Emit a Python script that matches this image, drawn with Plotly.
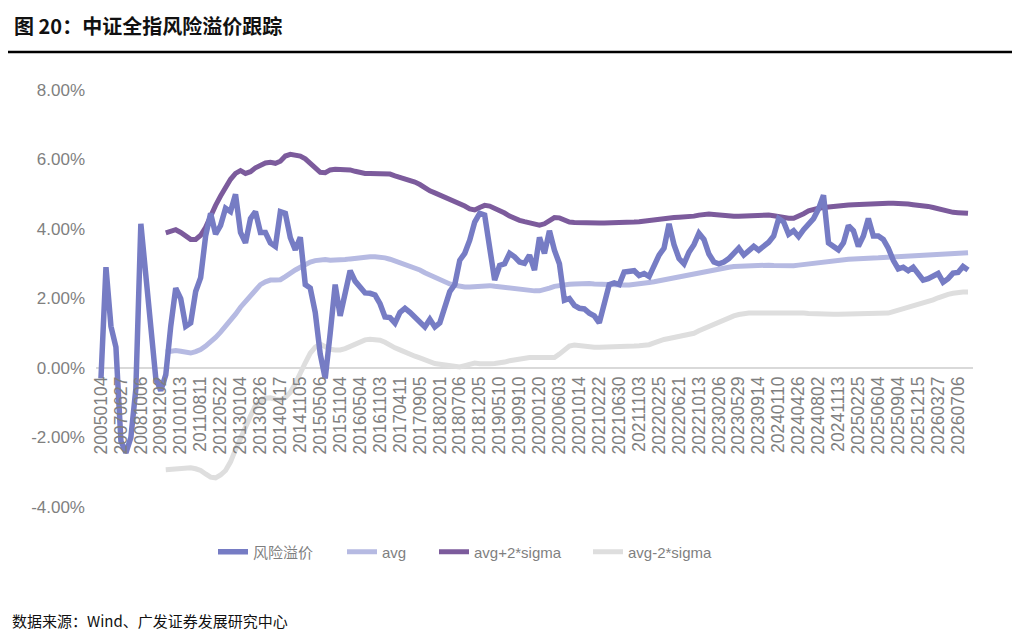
import plotly.graph_objects as go

tick_labels = ["20050104", "20070627", "20081006", "20091202", "20101013", "20110811",
               "20120522", "20130104", "20130826", "20140417", "20141105", "20150506",
               "20151104", "20160504", "20161103", "20170411", "20170905", "20180201",
               "20180706", "20181205", "20190510", "20190910", "20200120", "20200603",
               "20201014", "20210222", "20210630", "20211103", "20220225", "20220621",
               "20221013", "20230206", "20230529", "20230914", "20240110", "20240426",
               "20240802", "20241113", "20250225", "20250604", "20250904", "20251215",
               "20260327", "20260706"]
points_per_label = 4

# 风险溢价 (%)
risk_premium = [
    -0.3, 2.9, 1.2, 0.6, -2.1, -2.44, -2.0, -0.6, 4.15, 2.7,
    0.9, -0.3, -0.65, -0.2, 1.2, 2.3, 2.0, 1.2, 1.3, 2.2,
    2.6, 3.8, 4.45, 3.85, 4.1, 4.6, 4.5, 5.0, 3.9, 3.6,
    4.3, 4.5, 3.9, 3.9, 3.6, 3.5, 4.5, 4.45, 3.75, 3.4,
    3.76, 2.4, 2.3, 1.6, 0.4, -0.3, 1.0, 2.4, 1.5, 2.1,
    2.8, 2.5, 2.3, 2.16, 2.15, 2.1, 1.85, 1.47, 1.45, 1.29,
    1.6, 1.72, 1.6, 1.45, 1.33, 1.18, 1.4, 1.18, 1.3, 1.76,
    2.2, 2.4, 3.1, 3.3, 3.68, 4.2, 4.45, 4.4, 3.5, 2.53,
    2.95, 3.0, 3.3, 3.2, 3.05, 3.01, 3.25, 2.82, 3.76, 3.3,
    3.95, 3.39, 3.0, 1.95, 2.0, 1.8, 1.72, 1.7, 1.58, 1.5,
    1.3, 1.8, 2.4, 2.45, 2.4, 2.76, 2.78, 2.8, 2.66, 2.72,
    2.63, 2.95, 3.25, 3.45, 4.15, 3.55, 3.15, 3.0, 3.33, 3.55,
    3.88, 3.7, 3.28, 3.05, 3.0, 3.05, 3.15, 3.3, 3.45, 3.25,
    3.38, 3.5, 3.39, 3.5, 3.62, 3.8, 4.3, 4.2, 3.85, 3.95,
    3.78, 3.98, 4.12, 4.3, 4.58, 4.97, 3.6, 3.5, 3.4, 3.6,
    4.1, 3.95, 3.5, 3.8, 4.3, 3.8, 3.8, 3.7, 3.45, 3.1,
    2.85, 2.9, 2.8, 2.9, 2.68, 2.53, 2.57, 2.63, 2.72, 2.47,
    2.57, 2.73, 2.75, 2.92, 2.82]

# avg (%)
avg = [
    0.46, 0.48, 0.5, 0.48, 0.44, 0.43, 0.47, 0.53, 0.63, 0.74,
    0.88, 1.03, 1.19, 1.35, 1.55, 1.75, 1.92, 2.06, 2.23, 2.4,
    2.48, 2.53, 2.53, 2.54, 2.63, 2.74, 2.82, 2.9, 2.98, 3.05,
    3.09, 3.12, 3.12, 3.1, 3.1, 3.11, 3.12, 3.14, 3.16, 3.18,
    3.2, 3.2, 3.2, 3.2, 3.17, 3.13, 3.08, 3.03, 2.98, 2.93,
    2.88, 2.82, 2.74, 2.67, 2.6, 2.54, 2.47, 2.42, 2.38, 2.34,
    2.33, 2.33, 2.34, 2.36, 2.38, 2.37, 2.35, 2.33, 2.32, 2.31,
    2.29, 2.27, 2.25, 2.23, 2.22, 2.22, 2.25, 2.3, 2.35, 2.38,
    2.4, 2.41, 2.42, 2.43, 2.44, 2.43, 2.42, 2.41, 2.4, 2.39,
    2.39, 2.39, 2.39, 2.39, 2.4, 2.42, 2.44, 2.46, 2.48, 2.51,
    2.54, 2.57, 2.59, 2.62, 2.65, 2.68, 2.71, 2.74, 2.77, 2.8,
    2.83, 2.86, 2.88, 2.9, 2.92, 2.93, 2.94, 2.95, 2.96, 2.96,
    2.96, 2.96, 2.95, 2.94, 2.93, 2.93, 2.94, 2.96, 2.98, 3.0,
    3.02, 3.04, 3.06, 3.08, 3.1, 3.11, 3.12, 3.13, 3.14, 3.14,
    3.15, 3.15, 3.16, 3.17, 3.18, 3.19, 3.19, 3.2, 3.21, 3.22,
    3.23, 3.24, 3.25, 3.26, 3.27, 3.28, 3.29, 3.3, 3.3, 3.31,
    3.32, 3.32]

# avg+2*sigma (%)
upper = [
    3.89, 3.95, 3.98, 3.9, 3.8, 3.7, 3.7, 3.82, 4.05, 4.4,
    4.68, 4.95, 5.2, 5.43, 5.6, 5.68, 5.6, 5.65, 5.76, 5.83,
    5.9, 5.92, 5.89, 5.95, 6.1, 6.15, 6.13, 6.1, 6.02, 5.89,
    5.75, 5.63, 5.62, 5.7, 5.72, 5.72, 5.72, 5.7, 5.66, 5.62,
    5.6, 5.6, 5.6, 5.6, 5.6, 5.58, 5.53, 5.49, 5.45, 5.4,
    5.35, 5.28, 5.18, 5.1, 5.04, 4.98, 4.93, 4.87, 4.8, 4.74,
    4.66, 4.58, 4.55, 4.62, 4.68, 4.66, 4.6, 4.54, 4.46, 4.37,
    4.3, 4.25, 4.21, 4.17, 4.13, 4.11, 4.15, 4.25, 4.33, 4.32,
    4.24, 4.2, 4.19, 4.18, 4.17, 4.17, 4.17, 4.17, 4.17, 4.17,
    4.18, 4.18, 4.19, 4.2, 4.2, 4.21, 4.23, 4.25, 4.27, 4.3,
    4.31, 4.32, 4.33, 4.34, 4.34, 4.35, 4.37, 4.4, 4.42, 4.43,
    4.42, 4.4, 4.38, 4.37, 4.37, 4.37, 4.38, 4.39, 4.4, 4.4,
    4.4, 4.4, 4.38, 4.35, 4.32, 4.31, 4.31, 4.36, 4.44, 4.52,
    4.57, 4.6, 4.62, 4.64, 4.66, 4.67, 4.68, 4.69, 4.7, 4.71,
    4.72, 4.73, 4.74, 4.74, 4.74, 4.74, 4.74, 4.74, 4.73, 4.72,
    4.7, 4.69, 4.67, 4.65, 4.62, 4.58, 4.54, 4.51, 4.48, 4.47,
    4.46, 4.45]

# avg-2*sigma (%)
lower = [
    -2.93, -2.92, -2.9, -2.88, -2.87, -2.87, -2.9, -2.95, -3.05, -3.14,
    -3.16, -3.08, -2.95, -2.7, -2.35, -2.0, -1.65, -1.38, -1.08, -0.95,
    -0.87, -0.86, -0.9, -0.92, -0.85, -0.7, -0.45, -0.12, 0.15, 0.43,
    0.6, 0.69, 0.62, 0.54, 0.52, 0.52, 0.56, 0.62, 0.68, 0.75,
    0.81, 0.83, 0.82, 0.8, 0.74, 0.65, 0.58, 0.52, 0.45, 0.4,
    0.34, 0.29, 0.23, 0.17, 0.13, 0.11, 0.09, 0.07, 0.05, 0.03,
    0.07, 0.12, 0.14, 0.12, 0.11, 0.12, 0.13, 0.14, 0.17, 0.21,
    0.24, 0.27, 0.29, 0.3, 0.3, 0.3, 0.28, 0.27, 0.3, 0.4,
    0.52, 0.63, 0.66, 0.64, 0.62, 0.6, 0.6, 0.6, 0.6, 0.6,
    0.6, 0.6, 0.61, 0.62, 0.63, 0.64, 0.65, 0.67, 0.72, 0.78,
    0.82, 0.85, 0.88, 0.91, 0.94, 0.97, 1.0, 1.07, 1.13, 1.19,
    1.25, 1.32, 1.39, 1.46, 1.5, 1.54, 1.57, 1.58, 1.58, 1.58,
    1.58, 1.58, 1.59, 1.6, 1.61, 1.61, 1.61, 1.6, 1.58, 1.57,
    1.56, 1.55, 1.55, 1.55, 1.55, 1.55, 1.55, 1.55, 1.55, 1.55,
    1.55, 1.55, 1.55, 1.55, 1.56, 1.58, 1.62, 1.66, 1.71, 1.76,
    1.8, 1.84, 1.87, 1.9, 1.96, 2.02, 2.08, 2.12, 2.15, 2.18,
    2.19, 2.19]

x_rp = list(range(len(risk_premium)))
x_avg = list(range(len(risk_premium) - len(avg), len(risk_premium)))
x_up = list(range(len(risk_premium) - len(upper), len(risk_premium)))
x_lo = list(range(len(risk_premium) - len(lower), len(risk_premium)))

tick_vals = [i * points_per_label for i in range(len(tick_labels))]

FONT = "Liberation Sans, Arial, Noto Sans CJK SC, sans-serif"
GRAY = "#7f7f7f"

# page is rendered with an 8px body margin: figure is drawn starting at (8, 8)
OFF = 8
W, H = 1020 - OFF, 639 - OFF
PL, PR, PT, PB = 96, 973, 90, 507          # plot area in page pixels
PW, PH = PR - PL, PB - PT


def px(xp):
    return (xp - PL) / PW


def py(yp):
    return (PB - yp) / PH


legend_common = dict(orientation="h", xanchor="left", yanchor="middle", y=py(552),
                     font=dict(size=15, color=GRAY, family=FONT),
                     bgcolor="rgba(0,0,0,0)")

fig = go.Figure()
fig.add_trace(go.Scatter(x=x_lo, y=lower, mode="lines", name="avg-2*sigma",
                         line=dict(color="#dedede", width=5), legend="legend4"))
fig.add_trace(go.Scatter(x=x_up, y=upper, mode="lines", name="avg+2*sigma",
                         line=dict(color="#7c5b9c", width=5), legend="legend3"))
fig.add_trace(go.Scatter(x=x_avg, y=avg, mode="lines", name="avg",
                         line=dict(color="#b6bae2", width=5), legend="legend2"))
fig.add_trace(go.Scatter(x=x_rp, y=risk_premium, mode="lines", name="风险溢价",
                         line=dict(color="#767cc4", width=5.5), legend="legend"))

fig.update_layout(
    width=W, height=H,
    margin=dict(l=PL - OFF, r=W - (PR - OFF), t=PT - OFF, b=H - (PB - OFF)),
    paper_bgcolor="white", plot_bgcolor="white",
    font=dict(family=FONT, color=GRAY),
    showlegend=True,
    legend=dict(x=px(213), **legend_common),
    legend2=dict(x=px(342), **legend_common),
    legend3=dict(x=px(434), **legend_common),
    legend4=dict(x=px(588), **legend_common),
    xaxis=dict(range=[-1, len(risk_premium)], tickmode="array", tickvals=tick_vals,
               ticktext=tick_labels, tickangle=-90, anchor="free", position=1 / 3,
               showgrid=False, zeroline=False, showline=False, ticks="",
               tickfont=dict(size=17.5, color=GRAY, family=FONT), ticklabelstandoff=4),
    yaxis=dict(range=[-4, 8], tickmode="array", tickvals=[-4, -2, 0, 2, 4, 6, 8],
               ticktext=["-4.00%", "-2.00%", "0.00%", "2.00%", "4.00%", "6.00%", "8.00%"],
               showgrid=False, zeroline=True, zerolinecolor="#d9d9d9", zerolinewidth=2,
               showline=False, ticks="", ticklabelstandoff=10,
               tickfont=dict(size=17, color=GRAY, family=FONT)),
    title=dict(text="<b>图 20：中证全指风险溢价跟踪</b>", xref="container", yref="container",
               x=(14 - OFF) / W, xanchor="left", y=1 - (27 - OFF) / H, yanchor="middle",
               font=dict(size=20, color="#111111", family="Noto Sans CJK SC, sans-serif")),
)

fig.add_shape(type="line", xref="paper", yref="paper",
              x0=px(5), x1=px(1015), y0=py(52), y1=py(52),
              line=dict(color="black", width=2.5))

fig.add_annotation(text="数据来源：Wind、广发证券发展研究中心", xref="paper", yref="paper",
                   x=px(10), y=py(620), xanchor="left", yanchor="middle",
                   showarrow=False,
                   font=dict(size=15, color="#111111", family="Noto Sans CJK SC, sans-serif"))

fig.write_html("out.html")
